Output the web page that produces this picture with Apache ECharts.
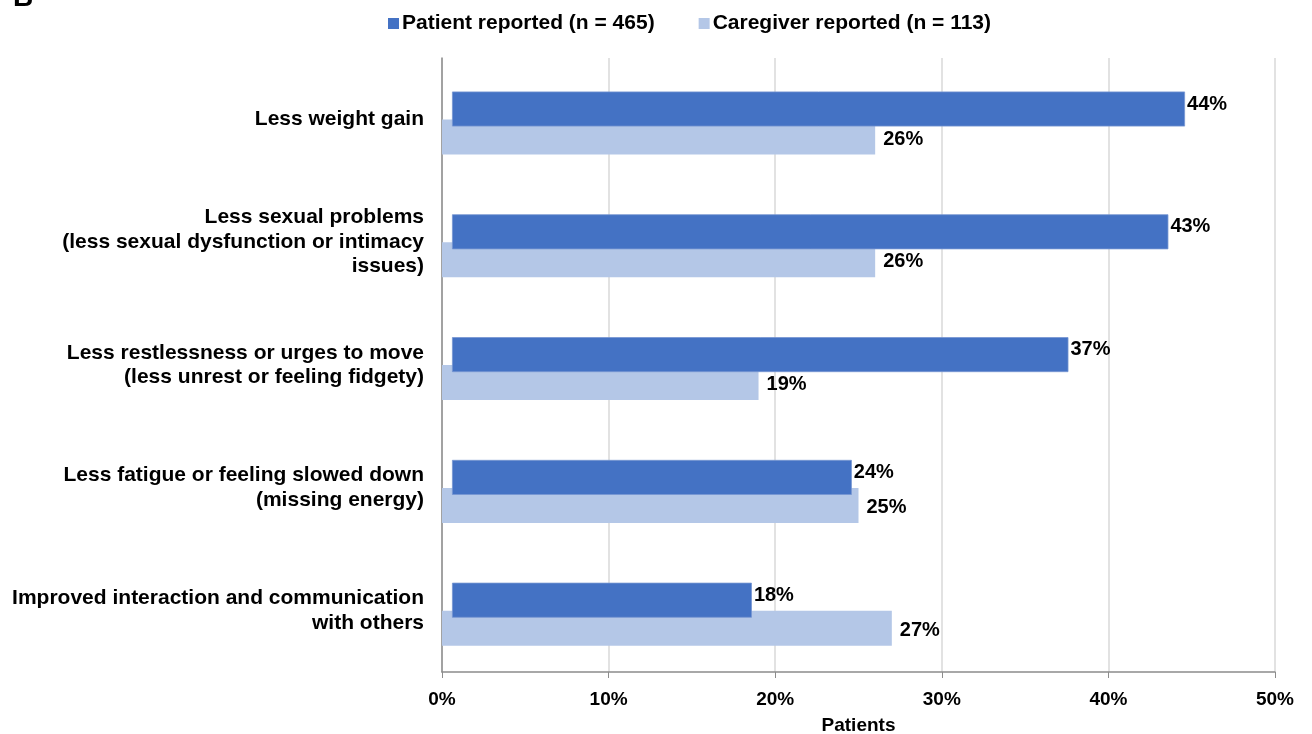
<!DOCTYPE html>
<html>
<head>
<meta charset="utf-8">
<script src="https://cdn.jsdelivr.net/npm/echarts@6/dist/echarts.min.js"></script>
<style>html,body{margin:0;padding:0;background:#fff}#c{width:1312px;height:734px}</style>
</head>
<body>
<div id="c"></div>
<script>
const categories = [
  'Less weight gain',
  'Less sexual problems\n(less sexual dysfunction or intimacy\nissues)',
  'Less restlessness or urges to move\n(less unrest or feeling fidgety)',
  'Less fatigue or feeling slowed down\n(missing energy)',
  'Improved interaction and communication\nwith others'
];
const patientValues = [44, 43, 37, 24, 18];
const caregiverValues = [26, 26, 19, 25, 27];
const patientOffset = [0.6, 0.6, 0.6, 0.6, 0.6];
const spacerValues = [null, null, null, null, null];
const xTicks = [0, 10, 20, 30, 40, 50];

const FONT = '"Liberation Sans", Arial, sans-serif';
const chart = echarts.init(document.getElementById('c'));
chart.setOption({
  animation: false,
  textStyle: { fontFamily: FONT },
  graphic: [{
    type: 'text', left: 13, top: -16,
    style: { text: 'B', font: 'bold 28px ' + FONT, fill: '#000' }
  }],
  legend: {
    data: ['Patient reported (n = 465)', 'Caregiver reported (n = 113)'],
    top: 8, left: 383,
    icon: 'rect', itemWidth: 11, itemHeight: 11, itemGap: 44,
    itemStyle: { borderWidth: 0 },
    textStyle: { fontFamily: FONT, fontWeight: 'bold', fontSize: 21, color: '#000', padding: [0, 0, 0, -2] }
  },
  grid: { left: 442, right: 37, top: 58, bottom: 62, outerBoundsMode: 'none', containLabel: false },
  xAxis: {
    type: 'value', min: xTicks[0], max: xTicks[xTicks.length - 1], interval: 10,
    name: 'Patients', nameLocation: 'middle', nameGap: 44,
    nameTextStyle: { fontFamily: FONT, fontWeight: 'bold', fontSize: 19, color: '#000' },
    axisLine: { show: true, lineStyle: { color: '#8c8c8c', width: 1.5 } },
    axisTick: { show: true, length: 6, lineStyle: { color: '#8c8c8c' } },
    axisLabel: { formatter: '{value}%', fontFamily: FONT, fontWeight: 'bold', fontSize: 19, color: '#000', margin: 18 },
    splitLine: { show: true, lineStyle: { color: '#d9d9d9', width: 1.5 } }
  },
  yAxis: {
    type: 'category', data: categories, inverse: true,
    axisLine: { show: true, lineStyle: { color: '#8c8c8c', width: 1.5 } },
    axisTick: { show: false },
    axisLabel: { fontFamily: FONT, fontWeight: 'bold', fontSize: 21, color: '#000', margin: 18, lineHeight: 24.5, align: 'right' }
  },
  series: [
    {
      name: 'spacer', type: 'bar', stack: 's', data: spacerValues,
      barWidth: 9, barGap: '-20%', silent: true,
      itemStyle: { color: 'rgba(0,0,0,0)' }, label: { show: false }
    },
    {
      name: 'offset', type: 'bar', stack: 'p', data: patientOffset,
      barWidth: 35, barGap: '-20%', silent: true,
      itemStyle: { color: 'rgba(0,0,0,0)' }, label: { show: false }, z: 3
    },
    {
      name: 'Patient reported (n = 465)', type: 'bar', stack: 'p', data: patientValues,
      barWidth: 35, barGap: '-20%', z: 3,
      itemStyle: { color: '#4472C4', borderColor: '#7696d2', borderWidth: 0.8 },
      label: { show: true, position: 'right', distance: 2, offset: [0, -5], formatter: '{c}%',
        fontFamily: FONT, fontWeight: 'bold', fontSize: 20, color: '#000' }
    },
    {
      name: 'Caregiver reported (n = 113)', type: 'bar', stack: 'c', data: caregiverValues,
      barWidth: 35, barGap: '-20%', z: 2,
      itemStyle: { color: '#B4C7E7' },
      label: { show: true, position: 'right', distance: 8, offset: [0, 2], formatter: '{c}%',
        fontFamily: FONT, fontWeight: 'bold', fontSize: 20, color: '#000' }
    }
  ]
});
</script>
</body>
</html>
